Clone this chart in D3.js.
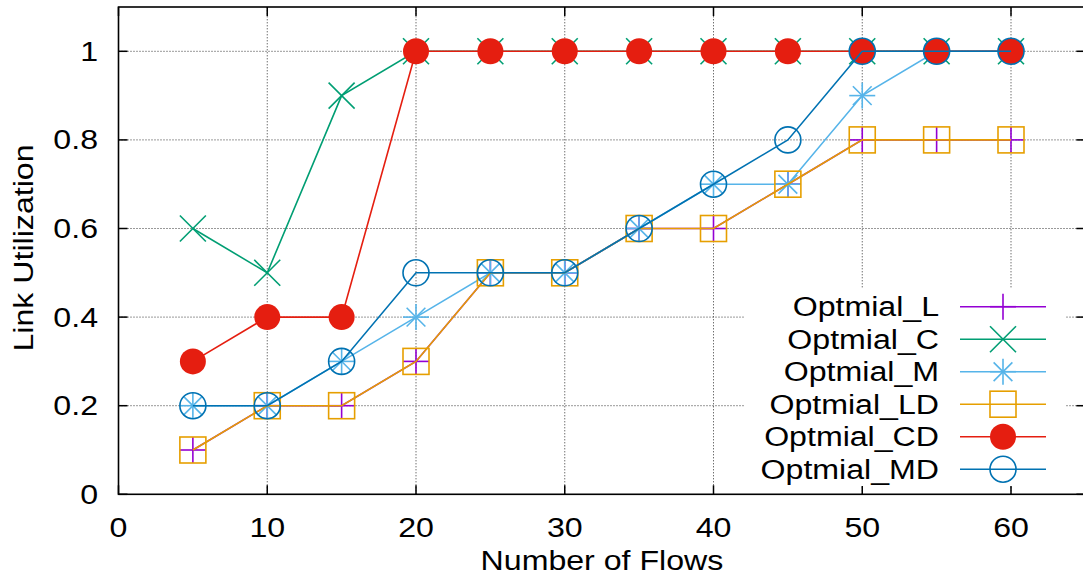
<!DOCTYPE html>
<html>
<head>
<meta charset="utf-8">
<script src="https://cdn.jsdelivr.net/npm/d3@7"></script>
<style>
  html, body { margin: 0; padding: 0; background: #fff; }
  svg { display: block; }
  text { font-family: "Liberation Sans", Arial, Helvetica, sans-serif; fill: #000; }
</style>
</head>
<body>
<svg id="chart" width="1083" height="578"></svg>
<script>
// Number of flows on the x axis
const flows = [5, 10, 15, 20, 25, 30, 35, 40, 45, 50, 55, 60];

// Link utilization per scheme
const optimalL  = [0.1, 0.2, 0.2, 0.3, 0.5, 0.5, 0.6, 0.6, 0.7, 0.8, 0.8, 0.8];
const optimalC  = [0.6, 0.5, 0.9, 1.0, 1.0, 1.0, 1.0, 1.0, 1.0, 1.0, 1.0, 1.0];
const optimalM  = [0.2, 0.2, 0.3, 0.4, 0.5, 0.5, 0.6, 0.7, 0.7, 0.9, 1.0, 1.0];
const optimalLD = [0.1, 0.2, 0.2, 0.3, 0.5, 0.5, 0.6, 0.6, 0.7, 0.8, 0.8, 0.8];
const optimalCD = [0.3, 0.4, 0.4, 1.0, 1.0, 1.0, 1.0, 1.0, 1.0, 1.0, 1.0, 1.0];
const optimalMD = [0.2, 0.2, 0.3, 0.5, 0.5, 0.5, 0.6, 0.7, 0.8, 1.0, 1.0, 1.0];

const seriesNames = ["Optmial_L", "Optmial_C", "Optmial_M", "Optmial_LD", "Optmial_CD", "Optmial_MD"];
const seriesValues = [optimalL, optimalC, optimalM, optimalLD, optimalCD, optimalMD];
const seriesColors = ["#9400d3", "#009e73", "#56b4e9", "#e69f00", "#e51e10", "#0072b2"];
const seriesMarkers = ["plus", "cross", "star", "square", "disc", "circle"];

const xTicks = [0, 10, 20, 30, 40, 50, 60];
const yTicks = [0, 0.2, 0.4, 0.6, 0.8, 1];
const xTitle = "Number of Flows";
const yTitle = "Link Utilization";

const svg = d3.select("#chart");
const plotLeft = 118.5, plotTop = 7, plotBottom = 494.3;
const x = d3.scaleLinear().domain([0, 65]).range([plotLeft, plotLeft + 65 * 14.875]);
const y = d3.scaleLinear().domain([0, 1.1]).range([plotBottom, plotTop]);
const plotRight = x(65);
const sx = 1.19; // horizontal stretch of the typeface
const fontSize = 27;
const tickLen = 9;

// grid
const grid = svg.append("g").attr("stroke", "#333").attr("stroke-width", 1).attr("stroke-dasharray", "1,2");
xTicks.filter(t => t > 0).forEach(t => {
  grid.append("line").attr("x1", x(t)).attr("x2", x(t)).attr("y1", y(0)).attr("y2", y(1.1));
});
yTicks.filter(t => t > 0).forEach(t => {
  grid.append("line").attr("x1", x(0)).attr("x2", x(65)).attr("y1", y(t)).attr("y2", y(t));
});

// axes with inward ticks and mirrored ticks
const axes = svg.append("g").attr("stroke", "#000").attr("stroke-width", 1.5);
xTicks.forEach(t => {
  axes.append("line").attr("x1", x(t)).attr("x2", x(t)).attr("y1", plotBottom).attr("y2", plotBottom - tickLen);
  axes.append("line").attr("x1", x(t)).attr("x2", x(t)).attr("y1", plotTop).attr("y2", plotTop + tickLen);
});
yTicks.forEach(t => {
  axes.append("line").attr("x1", plotLeft).attr("x2", plotLeft + tickLen).attr("y1", y(t)).attr("y2", y(t));
  axes.append("line").attr("x1", plotRight).attr("x2", plotRight - tickLen).attr("y1", y(t)).attr("y2", y(t));
});

// tick labels
const labels = svg.append("g").attr("font-size", fontSize);
xTicks.forEach(t => {
  labels.append("text")
    .attr("transform", `translate(${x(t)},${537}) scale(${sx},1)`)
    .attr("text-anchor", "middle")
    .text(d3.format("d")(t));
});
yTicks.forEach(t => {
  labels.append("text")
    .attr("transform", `translate(98,${y(t) + 9.5}) scale(${sx},1)`)
    .attr("text-anchor", "end")
    .text(t === 0 || t === 1 ? d3.format("d")(t) : d3.format(".1f")(t));
});
labels.append("text")
  .attr("transform", `translate(${(plotLeft + x(65)) / 2},${570}) scale(${sx},1)`)
  .attr("text-anchor", "middle")
  .text(xTitle);
labels.append("text")
  .attr("transform", `translate(33,${248}) rotate(-90) scale(${sx},1)`)
  .attr("text-anchor", "middle")
  .text(yTitle);

// marker shapes
const R = 13;
function drawMarker(g, kind, cx, cy, color) {
  const m = g.append("g").attr("transform", `translate(${cx},${cy})`)
    .attr("stroke", color).attr("stroke-width", 1.6).attr("fill", "none");
  const d = R * 0.72;
  if (kind === "plus" || kind === "star") {
    m.append("line").attr("x1", -R).attr("x2", R).attr("y1", 0).attr("y2", 0);
    m.append("line").attr("x1", 0).attr("x2", 0).attr("y1", -R).attr("y2", R);
  }
  if (kind === "cross" || kind === "star") {
    const k = kind === "cross" ? R : d;
    m.append("line").attr("x1", -k).attr("x2", k).attr("y1", -k).attr("y2", k);
    m.append("line").attr("x1", -k).attr("x2", k).attr("y1", k).attr("y2", -k);
  }
  if (kind === "square") {
    m.append("rect").attr("x", -R).attr("y", -R).attr("width", 2 * R).attr("height", 2 * R);
  }
  if (kind === "disc") {
    m.append("circle").attr("r", R).attr("fill", color).attr("stroke", "none");
  }
  if (kind === "circle") {
    m.append("circle").attr("r", R);
  }
}

// series
const line = d3.line().x(d => x(d[0])).y(d => y(d[1]));
const plot = svg.append("g");
seriesValues.forEach((vals, i) => {
  const pts = flows.map((f, j) => [f, vals[j]]);
  const g = plot.append("g");
  g.append("path").datum(pts).attr("d", line)
    .attr("fill", "none").attr("stroke", seriesColors[i]).attr("stroke-width", 1.6);
  pts.forEach(p => drawMarker(g, seriesMarkers[i], x(p[0]), y(p[1]), seriesColors[i]));
});

// legend (opaque box)
const legend = svg.append("g");
legend.append("rect").attr("x", 745).attr("y", 289).attr("width", 321).attr("height", 197).attr("fill", "#fff");
seriesNames.forEach((name, i) => {
  const ly = 306.7 + i * 32.5;
  legend.append("text")
    .attr("font-size", fontSize)
    .attr("transform", `translate(939,${ly + 9.5}) scale(${sx},1)`)
    .attr("text-anchor", "end")
    .text(name);
  legend.append("line").attr("x1", 960).attr("x2", 1046).attr("y1", ly).attr("y2", ly)
    .attr("stroke", seriesColors[i]).attr("stroke-width", 1.6);
  drawMarker(legend, seriesMarkers[i], 1003, ly, seriesColors[i]);
});

// frame on top
svg.append("rect").attr("x", plotLeft).attr("y", plotTop).attr("width", plotRight - plotLeft).attr("height", plotBottom - plotTop)
  .attr("fill", "none").attr("stroke", "#000").attr("stroke-width", 1.6);
</script>
</body>
</html>
